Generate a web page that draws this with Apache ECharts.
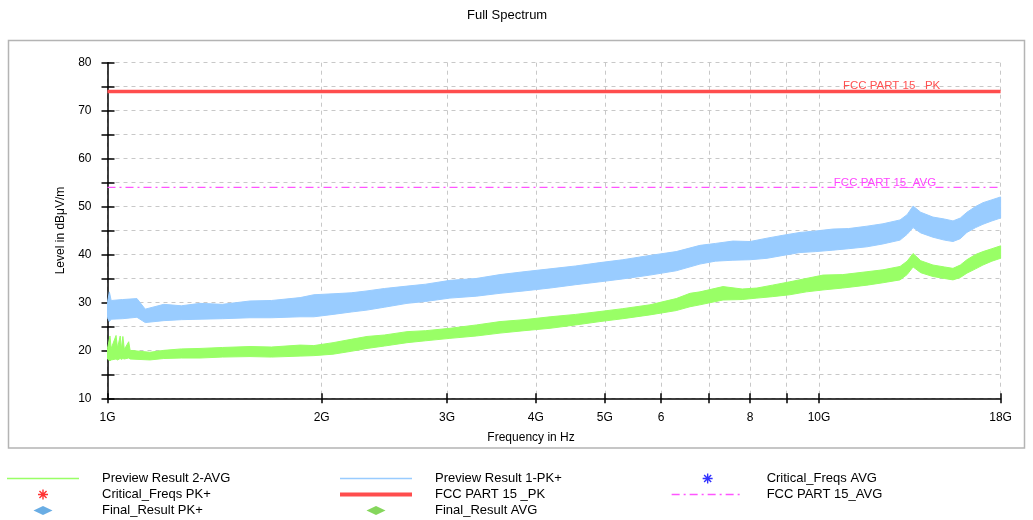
<!DOCTYPE html>
<html>
<head>
<meta charset="utf-8">
<script src="https://cdn.jsdelivr.net/npm/echarts@6.0.0/dist/echarts.min.js"></script>
<style>
  html, body { margin: 0; padding: 0; background: #fff; }
  #spectrum { width: 1033px; height: 520px; }
</style>
</head>
<body>
<div id="spectrum"></div>
<script>
// frequencies in GHz, levels in dBuV/m (band = lower / upper edge of the trace)
const pkFreq = [1.0, 1.006, 1.012, 1.05, 1.1, 1.13, 1.2, 1.27, 1.349, 1.45, 1.586, 1.7, 1.865, 1.95, 2.075, 2.2, 2.316, 2.45, 2.636, 2.8,
  3.029, 3.3, 3.562, 3.85, 4.188, 4.55, 4.922, 5.3, 5.786, 6.3, 6.803, 7.15, 7.569, 8.0, 8.452, 8.9, 9.404, 9.9, 10.46, 11.0,
  11.68, 12.3, 13.0, 13.3, 13.56, 13.9, 14.46, 15.0, 15.43, 15.8, 16.14, 16.6, 17.0, 17.5, 18.0]
const pkHigh = [30.0, 32.2, 30.4, 30.6, 30.8, 28.6, 29.6, 29.3, 29.8, 29.6, 30.3, 30.4, 31.0, 31.6, 31.8, 32.0, 32.4, 32.9, 33.4, 33.8,
  34.6, 35.0, 35.8, 36.4, 37.0, 37.6, 38.3, 38.9, 39.8, 40.6, 41.9, 42.3, 42.8, 42.7, 43.4, 44.0, 44.6, 44.9, 45.3, 45.4,
  45.9, 46.4, 47.2, 48.3, 50.1, 48.8, 47.8, 47.4, 47.0, 47.6, 48.8, 50.0, 50.8, 51.4, 52.0]
const pkLow = [26.8, 26.0, 26.5, 26.6, 26.9, 25.8, 26.2, 26.4, 26.5, 26.6, 26.8, 26.8, 27.0, 27.0, 27.5, 28.0, 28.4, 29.0, 29.8, 30.2,
  30.9, 31.3, 31.9, 32.4, 33.0, 33.7, 34.3, 34.9, 35.7, 36.6, 38.0, 38.6, 38.8, 38.9, 39.2, 39.8, 40.4, 40.6, 40.9, 41.2,
  41.6, 42.2, 43.0, 44.2, 45.6, 44.5, 43.6, 43.0, 42.7, 43.3, 44.6, 45.6, 46.3, 47.0, 47.6]

const avgFreq = [1.0, 1.008, 1.012, 1.028, 1.033, 1.042, 1.046, 1.051, 1.056, 1.071, 1.076, 1.147, 1.2, 1.27, 1.349, 1.45, 1.586, 1.7, 1.865, 1.95,
  2.075, 2.2, 2.316, 2.45, 2.636, 2.8, 3.029, 3.3, 3.562, 3.85, 4.188, 4.55, 4.922, 5.3, 5.786, 6.3, 6.588, 6.803, 7.33, 7.8,
  8.18, 8.6, 9.1, 9.6, 10.13, 10.8, 11.68, 12.3, 13.0, 13.3, 13.56, 13.9, 14.46, 15.0, 15.43, 15.8, 16.14, 16.6, 17.0, 17.5, 18.0]
const avgHigh = [20.4, 23.0, 20.4, 23.1, 20.5, 23.0, 20.3, 22.9, 20.2, 21.8, 20.0, 19.6, 20.0, 20.3, 20.4, 20.6, 20.8, 20.7, 21.1, 21.0,
  21.6, 22.3, 22.9, 23.2, 23.9, 24.1, 24.6, 25.3, 26.0, 26.4, 27.0, 27.5, 28.1, 28.7, 29.5, 30.8, 31.9, 32.2, 33.3, 32.8,
  33.0, 33.6, 34.3, 35.0, 35.7, 35.8, 36.4, 36.8, 37.5, 38.6, 40.2, 38.7, 37.8, 37.4, 37.1, 37.8, 38.9, 40.0, 40.6, 41.2, 41.8]
const avgLow = [18.2, 17.8, 18.0, 18.2, 18.0, 18.3, 18.1, 18.3, 18.2, 18.4, 18.2, 18.0, 18.3, 18.4, 18.4, 18.6, 18.7, 18.6, 18.8, 18.9,
  19.2, 19.8, 20.4, 20.9, 21.6, 22.0, 22.5, 23.0, 23.6, 24.1, 24.6, 25.3, 26.0, 26.6, 27.4, 28.3, 29.1, 29.5, 30.5, 30.6,
  30.9, 31.2, 31.6, 32.2, 32.6, 33.0, 33.6, 34.1, 34.7, 35.8, 37.4, 36.2, 35.4, 35.0, 34.7, 35.2, 36.1, 37.0, 37.8, 38.6, 39.2]

const limitPk = [[1, 74], [18, 74]]
const limitAvg = [[1, 54], [18, 54]]
const critFreqsPk = []
const critFreqsAvg = []
const finalPk = []
const finalAvg = []

const xTickValues = [1, 2, 3, 4, 5, 6, 7, 8, 9, 10, 18]
const xLabelValues = [1, 2, 3, 4, 5, 6, 8, 10, 18]
const xLabelText = ['1G', '2G', '3G', '4G', '5G', '6', '8', '10G', '18G']

// legend icons drawn in a 72x10 box (zero-length subpaths pin the box)
const box = 'M0,0L0,0Z M72,10L72,10Z '
const lineIcon = 'path://' + box + 'M0,4.3H72V5.7H0Z'
const starIcon = 'path://' + box + 'M31,4.3H41V5.7H31Z M35.3,0H36.7V10H35.3Z ' +
  'M31.96,1.96L32.96,0.96L40.04,8.04L39.04,9.04Z M39.04,0.96L40.04,1.96L32.96,9.04L31.96,8.04Z'
const diamondIcon = 'path://' + box + 'M26.5,5L36,0.5L45.5,5L36,9.5Z'

function band(name, color, freq, high, low) {
  return {
    type: 'custom',
    name: name,
    silent: true,
    itemStyle: {color: color},
    data: [[freq[0], low[0]]],
    renderItem: function (params, api) {
      let pts = []
      for (let i = 0; i < freq.length; i++) pts.push(api.coord([freq[i], high[i]]))
      for (let i = freq.length - 1; i >= 0; i--) pts.push(api.coord([freq[i], low[i]]))
      return {
        type: 'polygon',
        shape: {points: pts},
        style: {fill: color, stroke: color, lineWidth: 1}
      }
    }
  }
}

const legendBase = {
  orient: 'vertical',
  top: 472,
  height: 60,
  padding: 0,
  itemWidth: 72,
  itemHeight: 10,
  itemGap: 3,
  selectedMode: false,
  textStyle: {fontSize: 13, color: '#000', padding: [0, 0, 0, 18]}
}

let chart = echarts.init(document.getElementById('spectrum'))
let option = {
  animation: false,
  textStyle: {fontFamily: 'Liberation Sans, Arial, sans-serif'},
  title: {
    text: 'Full Spectrum',
    left: 467,
    top: 9,
    padding: 0,
    textStyle: {fontSize: 13, fontWeight: 'normal', color: '#000'}
  },
  graphic: [{
    type: 'rect',
    shape: {x: 8.5, y: 40.5, width: 1016, height: 407.5},
    style: {fill: 'none', stroke: '#b4b4b4', lineWidth: 1.5},
    silent: true
  }],
  legend: [
    Object.assign({}, legendBase, {left: 7, data: [
      {name: 'Preview Result 2-AVG', icon: lineIcon},
      {name: 'Critical_Freqs PK+', icon: starIcon},
      {name: 'Final_Result PK+', icon: diamondIcon}
    ]}),
    Object.assign({}, legendBase, {left: 338, data: [
      {name: 'Preview Result 1-PK+', icon: lineIcon},
      {name: 'FCC PART 15 _PK', itemStyle: {opacity: 0}, lineStyle: {width: 4}},
      {name: 'Final_Result AVG', icon: diamondIcon}
    ]}),
    Object.assign({}, legendBase, {left: 671, data: [
      {name: 'Critical_Freqs AVG', icon: starIcon},
      {name: 'FCC PART 15_AVG', itemStyle: {opacity: 0}, lineStyle: {width: 1.3}}
    ]})
  ],
  grid: {left: 107.5, right: 32.4, top: 62.7, bottom: 121.7},
  xAxis: [{
    type: 'log',
    logBase: 10,
    min: 1,
    max: 18,
    name: 'Frequency in Hz',
    nameLocation: 'middle',
    nameGap: 33,
    nameTextStyle: {fontSize: 12, color: '#000', padding: [0, 46, 0, 0]},
    axisLine: {lineStyle: {color: '#000', width: 1.5}},
    axisTick: {length: 5, lineStyle: {color: '#000', width: 1.5}, customValues: xTickValues},
    axisLabel: {
      fontSize: 12, color: '#000', margin: 13,
      customValues: xLabelValues,
      formatter: function (v) {
        let i = xLabelValues.indexOf(Math.round(v))
        return i >= 0 ? xLabelText[i] : ''
      }
    },
    splitLine: {show: true, lineStyle: {color: '#c8c8c8', type: [4, 4], width: 1}}
  }, {
    type: 'log',
    logBase: 10,
    min: 1,
    max: 18,
    position: 'bottom',
    axisLine: {show: false},
    axisTick: {inside: true, length: 5, lineStyle: {color: '#000', width: 1.5}, customValues: xTickValues},
    axisLabel: {show: false},
    splitLine: {show: false}
  }],
  yAxis: [{
    type: 'value',
    min: 10,
    max: 80,
    interval: 5,
    name: 'Level in dBμV/m',
    nameLocation: 'middle',
    nameRotate: 90,
    nameGap: 41,
    nameTextStyle: {fontSize: 12, color: '#000'},
    axisLine: {show: true, lineStyle: {color: '#000', width: 1.5}},
    axisTick: {show: true, length: 6, lineStyle: {color: '#000', width: 1.5}},
    axisLabel: {
      fontSize: 12, color: '#000', margin: 16,
      formatter: function (v) { return v % 10 === 0 ? String(v) : '' }
    },
    splitLine: {show: true, lineStyle: {color: '#c8c8c8', type: [4, 4], width: 1}}
  }, {
    type: 'value',
    min: 10,
    max: 80,
    interval: 5,
    position: 'left',
    axisLine: {show: false},
    axisTick: {show: true, inside: true, length: 7, lineStyle: {color: '#000', width: 1.5}},
    axisLabel: {show: false},
    splitLine: {show: false}
  }],
  series: [
    band('Preview Result 1-PK+', '#99ccff', pkFreq, pkHigh, pkLow),
    band('Preview Result 2-AVG', '#99ff66', avgFreq, avgHigh, avgLow),
    {
      type: 'line',
      name: 'FCC PART 15 _PK',
      data: limitPk,
      symbol: 'none',
      color: '#ff4d4d',
      lineStyle: {color: '#ff4d4d', width: 3.5},
      markPoint: {
        symbolSize: 0,
        label: {show: true, position: 'inside', offset: [0, -6], formatter: 'FCC PART 15 _PK', color: '#ff5050', fontSize: 11.5},
        data: [{coord: [12.65, 74]}]
      }
    },
    {
      type: 'line',
      name: 'FCC PART 15_AVG',
      data: limitAvg,
      symbol: 'none',
      color: '#ff55ff',
      lineStyle: {color: '#ff55ff', width: 1.3, type: [8, 4, 2, 4]},
      markPoint: {
        symbolSize: 0,
        label: {show: true, position: 'inside', offset: [0, -5], formatter: 'FCC PART 15_AVG', color: '#ff44ff', fontSize: 11.5},
        data: [{coord: [12.38, 54]}]
      }
    },
    {type: 'scatter', name: 'Critical_Freqs PK+', data: critFreqsPk, symbolKeepAspect: true, itemStyle: {color: '#ff0000'}},
    {type: 'scatter', name: 'Critical_Freqs AVG', data: critFreqsAvg, symbolKeepAspect: true, itemStyle: {color: '#0000ff'}},
    {type: 'scatter', name: 'Final_Result PK+', data: finalPk, symbol: 'diamond', symbolKeepAspect: true, itemStyle: {color: '#4499dd'}},
    {type: 'scatter', name: 'Final_Result AVG', data: finalAvg, symbol: 'diamond', symbolKeepAspect: true, itemStyle: {color: '#66cc33'}}
  ]
}
chart.setOption(option)
</script>
</body>
</html>
